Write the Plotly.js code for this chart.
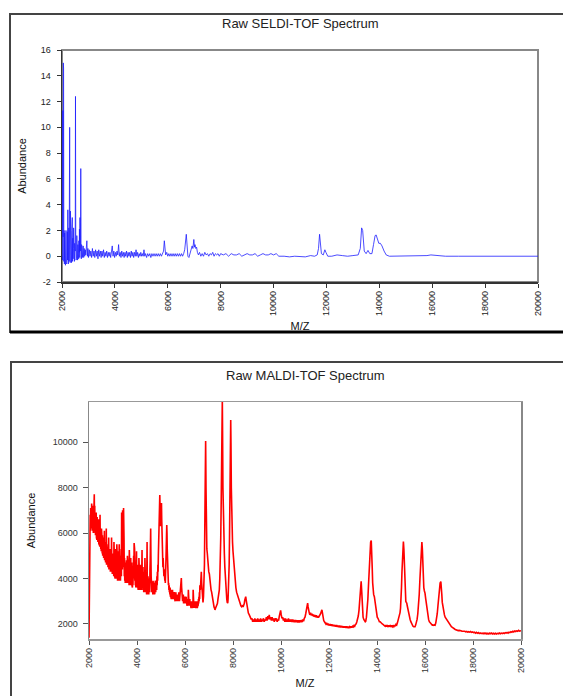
<!DOCTYPE html>
<html>
<head>
<meta charset="utf-8">
<script src="https://cdn.plot.ly/plotly-3.0.1.min.js"></script>
<style>html,body{margin:0;padding:0;background:#fff;}#chart{width:563px;height:696px;}</style>
</head>
<body>
<div id="chart"></div>
<script>
// ---------- data ----------
const seldiTitle = "Raw SELDI-TOF Spectrum";
const maldiTitle = "Raw MALDI-TOF Spectrum";
const xTitle = "M/Z";
const yTitle = "Abundance";
const mzTicks = [2000, 4000, 6000, 8000, 10000, 12000, 14000, 16000, 18000, 20000];
const seldiYTicks = [-2, 0, 2, 4, 6, 8, 10, 12, 14, 16];
const maldiYTicks = [2000, 4000, 6000, 8000, 10000];

// SELDI spectrum: [m/z, abundance]
const seldiPoints = [
[2000,0.0],[2010,3.5],[2020,-0.3],[2030,11.3],[2040,1.5],[2050,15.0],[2060,14.6],[2070,-0.4],[2080,2.0],[2090,-0.6],
[2100,1.8],[2110,-0.2],[2120,1.2],[2130,-0.7],[2140,0.9],[2150,2.0],[2160,-0.5],[2170,1.3],[2180,-0.6],[2190,0.6],
[2200,1.9],[2210,-0.3],[2220,3.6],[2230,0.2],[2240,-0.6],[2250,1.0],[2260,2.2],[2270,-0.4],[2280,7.9],[2290,10.0],
[2300,0.5],[2310,-0.5],[2320,3.5],[2330,1.0],[2340,-0.3],[2350,0.8],[2360,-0.5],[2370,2.0],[2380,0.2],[2390,3.0],
[2400,-0.4],[2410,1.4],[2420,-0.2],[2430,0.6],[2440,2.2],[2450,-0.3],[2460,0.9],[2470,-0.4],[2480,1.0],[2490,5.3],
[2500,0.4],[2510,12.4],[2520,1.5],[2530,-0.3],[2540,0.7],[2550,-0.2],[2560,1.6],[2570,0.0],[2580,0.6],[2590,-0.3],
[2600,0.9],[2610,0.1],[2620,0.5],[2630,-0.2],[2640,1.2],[2650,0.3],[2660,2.1],[2670,-0.1],[2680,3.0],[2690,0.4],
[2700,0.8],[2710,6.8],[2720,0.6],[2730,-0.2],[2740,0.9],[2750,0.1],[2760,0.7],[2770,-0.1],[2780,0.5],[2790,0.2],
[2800,0.8],[2820,-0.1],[2840,0.6],[2860,0.0],[2880,0.5],[2900,0.1],[2920,0.9],[2940,1.2],[2960,0.0],[2980,0.6],
[3000,-0.1],[3030,0.5],[3060,0.0],[3090,0.4],[3120,-0.1],[3150,0.6],[3180,0.0],[3210,0.4],[3240,-0.1],[3270,0.5],
[3300,0.0],[3330,0.4],[3360,-0.2],[3390,0.5],[3420,0.0],[3450,0.4],[3480,-0.1],[3510,0.4],[3540,0.0],[3570,0.5],
[3600,-0.1],[3630,0.3],[3660,0.0],[3690,0.4],[3720,-0.1],[3750,0.3],[3780,0.0],[3810,0.3],[3840,-0.1],[3870,0.4],
[3900,0.8],[3930,0.0],[3960,0.4],[3990,-0.1],[4020,0.3],[4050,0.0],[4080,0.4],[4110,0.1],[4140,0.9],[4170,0.0],
[4200,0.3],[4230,-0.1],[4260,0.4],[4290,0.0],[4320,0.3],[4350,-0.1],[4380,0.3],[4410,0.0],[4440,0.4],[4470,-0.1],
[4500,0.3],[4530,0.0],[4560,0.3],[4590,-0.1],[4620,0.4],[4650,0.0],[4680,0.3],[4710,-0.1],[4740,0.3],[4770,0.0],
[4800,0.5],[4830,0.0],[4860,0.3],[4890,-0.1],[4920,0.2],[4950,0.0],[4980,0.3],[5010,0.0],[5040,0.2],[5070,0.0],
[5100,0.5],[5130,0.0],[5160,0.2],[5200,-0.1],[5240,0.2],[5280,0.0],[5320,0.2],[5360,-0.1],[5400,0.2],[5440,0.0],
[5480,0.2],[5520,0.0],[5560,0.2],[5600,0.0],[5640,0.2],[5680,0.0],[5720,0.2],[5760,0.0],[5800,0.2],[5840,0.4],
[5870,1.2],[5890,0.3],[5920,0.1],[5960,0.3],[6000,0.0],[6040,0.2],[6080,0.0],[6120,0.2],[6160,0.0],[6200,0.2],
[6240,0.0],[6280,0.2],[6320,0.0],[6360,0.2],[6400,0.0],[6440,0.2],[6480,0.0],[6520,0.2],[6560,0.0],[6600,0.2],
[6640,0.5],[6700,1.7],[6730,0.6],[6760,0.0],[6800,-0.1],[6840,0.2],[6880,0.3],[6920,0.8],[6950,0.6],[6985,1.3],
[7010,0.7],[7030,0.9],[7060,0.6],[7090,0.7],[7120,0.3],[7160,0.1],[7200,0.3],[7250,0.0],[7300,0.2],[7350,0.0],
[7400,0.3],[7450,0.1],[7500,0.2],[7550,0.0],[7600,0.2],[7650,0.1],[7700,0.3],[7750,0.0],[7800,0.2],[7850,0.1],
[7900,0.2],[7950,0.0],[8000,0.2],[8100,0.1],[8200,0.2],[8300,0.0],[8400,0.2],[8500,0.1],[8600,0.1],[8700,0.2],
[8800,0.0],[8900,0.1],[9000,0.2],[9100,0.1],[9200,0.1],[9300,0.2],[9400,0.0],[9500,0.1],[9600,0.2],[9700,0.1],
[9800,0.1],[9900,0.2],[10000,0.1],[10100,0.2],[10200,0.0],[10400,0.0],[10600,-0.05],[10800,0.0],[11000,0.0],[11200,-0.05],
[11400,0.05],[11550,0.0],[11650,0.1],[11700,0.6],[11740,1.7],[11770,1.2],[11810,0.2],[11880,0.1],[11940,0.5],[11980,0.3],
[12050,0.0],[12200,0.0],[12400,0.1],[12600,0.05],[12800,0.0],[13000,0.05],[13200,0.1],[13280,0.6],[13330,2.2],[13370,2.0],
[13430,0.4],[13500,0.2],[13570,0.45],[13640,0.2],[13720,0.2],[13780,0.9],[13840,1.6],[13880,1.65],[13930,1.3],[13980,1.0],
[14040,1.0],[14100,0.8],[14180,0.4],[14260,0.1],[14380,0.0],[14600,0.0],[15000,0.0],[15500,0.0],[15800,0.05],[15950,0.1],
[16200,0.05],[16500,0.0],[17000,0.0],[17500,0.0],[18000,0.0],[18500,0.0],[19000,0.0],[19500,0.0],[20000,0.0]
];

// MALDI spectrum: [m/z, abundance]
const maldiPoints = [
[2000,1400],[2008,2600],[2016,4200],[2024,5600],[2032,6300],[2040,5900],[2050,6800],[2060,6100],[2070,7100],[2080,6300],
[2090,7000],[2100,6200],[2110,7300],[2120,6400],[2130,6900],[2140,6100],[2150,7200],[2160,6300],[2170,7000],[2180,6000],
[2190,7400],[2200,6200],[2210,7100],[2220,7700],[2230,6400],[2240,7200],[2250,6000],[2260,6900],[2270,5900],[2280,6800],
[2290,6000],[2300,6900],[2310,5800],[2320,6600],[2330,5700],[2340,6700],[2350,5800],[2360,6500],[2370,5600],[2380,6400],
[2390,5700],[2400,6600],[2410,5500],[2420,6300],[2430,5500],[2440,6200],[2450,5400],[2460,6800],[2470,5500],[2480,6100],
[2490,5300],[2500,6000],[2510,5200],[2520,6200],[2530,5200],[2540,5800],[2550,5100],[2560,5900],[2570,5000],[2580,5700],
[2590,5000],[2600,5800],[2610,4900],[2620,5600],[2630,4900],[2640,6100],[2650,4800],[2660,5600],[2670,4800],[2680,5500],
[2690,4700],[2700,5400],[2710,4700],[2720,6200],[2730,4600],[2740,5500],[2750,4600],[2760,5300],[2770,4600],[2780,5400],
[2790,4500],[2800,5200],[2810,4500],[2820,5800],[2830,4400],[2840,5200],[2850,4500],[2860,5100],[2870,4400],[2880,5300],
[2890,4300],[2900,5000],[2910,4400],[2920,5100],[2930,4300],[2940,5800],[2950,4300],[2960,5000],[2970,4200],[2980,4900],
[2990,4300],[3000,5100],[3010,4200],[3020,4800],[3030,4100],[3040,5600],[3050,4200],[3060,4800],[3070,4100],[3080,4900],
[3090,4000],[3100,5300],[3110,4100],[3120,4700],[3130,4000],[3140,4900],[3150,4000],[3160,5500],[3170,4100],[3180,4800],
[3190,3900],[3200,4700],[3210,4000],[3220,5200],[3230,3900],[3240,4700],[3250,4000],[3260,5500],[3270,3900],[3280,4600],
[3290,4000],[3300,5000],[3310,3900],[3320,4600],[3330,4200],[3340,5300],[3350,4100],[3360,6900],[3370,4600],[3380,5600],
[3390,4400],[3400,7000],[3410,5000],[3420,6200],[3430,4500],[3440,7100],[3450,4800],[3460,5700],[3470,4100],[3480,4900],
[3490,3900],[3500,4600],[3510,3800],[3520,4700],[3530,3900],[3540,4500],[3550,3800],[3560,4800],[3570,3900],[3580,4500],
[3590,3800],[3600,5000],[3610,3900],[3620,4600],[3630,3800],[3640,4700],[3650,3900],[3660,4500],[3670,3700],[3680,5250],
[3690,3800],[3700,4500],[3710,3700],[3720,4600],[3730,3800],[3740,4900],[3750,3700],[3760,4400],[3770,3800],[3780,4700],
[3790,3700],[3800,4400],[3810,3600],[3820,4500],[3830,3700],[3840,4800],[3850,3800],[3860,5000],[3870,4000],[3880,5560],
[3890,4200],[3900,5300],[3910,3900],[3920,4600],[3930,3700],[3940,4500],[3950,3600],[3960,4700],[3970,3700],[3980,5200],
[3990,3600],[4000,4400],[4010,3600],[4020,4600],[4030,3700],[4040,4300],[4050,3500],[4060,4500],[4070,3600],[4080,4900],
[4090,3600],[4100,4300],[4110,3500],[4120,4400],[4130,3600],[4140,4200],[4150,3500],[4160,4600],[4170,3600],[4180,4300],
[4190,3500],[4200,4400],[4210,5250],[4220,3600],[4230,4200],[4240,3500],[4250,4500],[4260,3500],[4270,4100],[4280,3400],
[4290,4300],[4300,3500],[4310,4100],[4320,3400],[4330,4900],[4340,3500],[4350,4100],[4360,3400],[4370,4200],[4380,3400],
[4390,4000],[4400,3300],[4410,4300],[4420,5600],[4430,3500],[4440,4000],[4450,3300],[4460,4100],[4470,3400],[4480,3900],
[4490,3300],[4500,4000],[4510,3400],[4520,3900],[4530,3400],[4540,4400],[4550,4800],[4560,5600],[4570,6200],[4580,5000],
[4590,4100],[4600,3500],[4610,3900],[4620,3400],[4630,3800],[4640,3300],[4650,3700],[4660,3300],[4670,3900],[4680,3400],
[4690,3700],[4700,3300],[4710,3800],[4720,3400],[4730,3700],[4740,3300],[4750,3800],[4760,3400],[4770,3900],[4780,3400],
[4790,3800],[4800,3500],[4810,3900],[4820,3500],[4830,4100],[4840,3700],[4850,4300],[4860,3900],[4870,4600],[4880,4300],
[4890,5000],[4900,5400],[4910,6000],[4920,6800],[4930,7300],[4940,7600],[4950,7670],[4960,7200],[4970,6500],[4980,6300],
[4990,6800],[5000,7100],[5010,7300],[5020,7320],[5030,6600],[5040,5600],[5050,5000],[5060,4700],[5070,5100],[5080,4500],
[5090,4900],[5100,4300],[5110,4700],[5120,4100],[5130,4400],[5140,3900],[5150,4200],[5160,3900],[5170,4000],[5180,3800],
[5190,4200],[5200,4500],[5210,5000],[5220,5600],[5230,6000],[5240,6350],[5250,6000],[5260,5300],[5270,4800],[5280,4400],
[5290,4100],[5300,3900],[5310,3700],[5320,3800],[5330,3500],[5340,3700],[5350,3400],[5360,3600],[5370,3300],[5380,3600],
[5390,3200],[5400,3500],[5410,3200],[5420,3500],[5430,3100],[5440,3500],[5450,3200],[5460,3400],[5470,3100],[5480,3500],
[5490,3200],[5500,3400],[5510,3100],[5520,3400],[5530,3100],[5540,3300],[5550,3100],[5560,3400],[5570,3100],[5580,3300],
[5590,3000],[5600,3300],[5610,3100],[5620,3400],[5630,3000],[5640,3300],[5650,3100],[5660,3300],[5670,3000],[5680,3200],
[5690,3000],[5700,3300],[5710,3000],[5720,3200],[5730,3000],[5740,3400],[5750,3100],[5760,3300],[5770,3000],[5780,3200],
[5790,3100],[5800,3300],[5810,3400],[5820,3600],[5830,3900],[5847,4020],[5860,3600],[5870,3300],[5880,3100],[5890,3300],
[5900,3000],[5910,3200],[5920,3000],[5930,3300],[5940,2900],[5950,3200],[5960,3000],[5970,3200],[5980,2900],[5990,3200],
[6000,2900],[6010,3200],[6020,2900],[6030,3100],[6040,2900],[6050,3200],[6060,2900],[6070,3100],[6080,2800],[6090,3100],
[6100,2900],[6110,3100],[6120,2800],[6130,3000],[6140,3500],[6150,2900],[6160,3100],[6170,2800],[6180,3000],[6190,2800],
[6200,3100],[6210,2800],[6220,3000],[6230,2800],[6240,3000],[6250,2700],[6260,3000],[6270,2800],[6280,3000],[6290,2700],
[6300,3000],[6310,2800],[6320,2900],[6330,2700],[6340,3500],[6350,2800],[6360,3000],[6370,2700],[6380,2900],[6390,2700],
[6400,3000],[6410,2800],[6420,3000],[6430,2700],[6440,2900],[6450,2700],[6460,3000],[6470,2800],[6480,2900],[6490,2700],
[6500,3000],[6510,2700],[6520,2900],[6530,2800],[6540,3000],[6550,2800],[6560,3100],[6570,2900],[6580,3200],[6590,3000],
[6600,3400],[6610,3100],[6620,3700],[6640,3500],[6660,3900],[6680,4300],[6695,3800],[6710,3300],[6730,3000],[6750,2950],
[6770,3200],[6790,3700],[6810,4600],[6830,6800],[6845,8800],[6860,10040],[6875,8000],[6890,6000],[6910,5300],[6930,5100],
[6950,4700],[6970,4500],[6990,4300],[7015,4200],[7040,3800],[7060,3700],[7085,3500],[7110,3400],[7135,3200],[7160,3000],
[7185,2850],[7210,2750],[7230,2700],[7250,2620],[7275,2700],[7300,2750],[7325,2800],[7350,2900],[7375,3100],[7400,3300],
[7430,3500],[7450,4000],[7470,4600],[7490,5800],[7510,7500],[7530,9600],[7545,11200],[7555,11900],[7565,10500],[7580,8000],
[7595,6500],[7610,5600],[7625,5300],[7640,5100],[7660,4500],[7680,4000],[7700,3600],[7720,3300],[7740,3100],[7760,2950],
[7780,2920],[7795,3100],[7810,3400],[7825,3900],[7840,4600],[7855,5800],[7870,7500],[7885,9300],[7895,10400],[7905,10970],
[7915,10000],[7930,8000],[7945,6600],[7960,6000],[7980,5600],[8000,5200],[8020,4900],[8040,4500],[8065,4200],[8090,3900],
[8120,3600],[8150,3400],[8175,3300],[8200,3200],[8225,3100],[8250,3000],[8275,3000],[8300,2900],[8330,2800],[8360,2760],
[8390,2800],[8420,2750],[8445,2800],[8470,2900],[8490,3050],[8510,3150],[8530,3200],[8550,3050],[8570,2900],[8590,2750],
[8610,2600],[8640,2480],[8670,2420],[8700,2350],[8730,2300],[8760,2200],[8790,2250],[8820,2100],[8850,2200],[8880,2100],
[8910,2250],[8940,2100],[8970,2200],[9000,2100],[9030,2250],[9060,2100],[9090,2200],[9120,2100],[9150,2250],[9180,2100],
[9210,2200],[9240,2120],[9270,2250],[9300,2100],[9330,2200],[9360,2150],[9390,2300],[9420,2150],[9450,2350],[9480,2200],
[9510,2400],[9540,2200],[9570,2300],[9600,2150],[9630,2300],[9660,2150],[9690,2250],[9720,2100],[9750,2250],[9780,2150],
[9810,2250],[9840,2100],[9870,2200],[9900,2150],[9930,2350],[9960,2500],[9985,2600],[10010,2400],[10040,2250],[10070,2300],
[10100,2150],[10130,2250],[10160,2100],[10190,2250],[10220,2100],[10250,2200],[10280,2100],[10310,2250],[10340,2100],[10370,2200],
[10400,2100],[10430,2200],[10460,2080],[10490,2200],[10520,2080],[10550,2180],[10580,2080],[10610,2180],[10640,2080],[10670,2170],
[10700,2070],[10730,2170],[10760,2070],[10790,2170],[10820,2080],[10850,2180],[10880,2080],[10910,2200],[10940,2120],[10970,2250],
[11000,2300],[11030,2450],[11060,2600],[11090,2800],[11110,2920],[11130,2750],[11150,2550],[11175,2500],[11200,2400],[11230,2500],
[11260,2380],[11290,2450],[11320,2350],[11350,2420],[11380,2320],[11410,2400],[11440,2300],[11470,2380],[11500,2280],[11530,2350],
[11560,2280],[11590,2330],[11620,2350],[11650,2450],[11680,2550],[11705,2620],[11725,2500],[11750,2300],[11780,2150],[11810,2100],
[11840,2050],[11870,2000],[11900,2050],[11930,1950],[11960,2020],[11990,1940],[12020,2000],[12050,1930],[12080,1990],[12110,1920],
[12140,1980],[12170,1900],[12200,1970],[12230,1890],[12260,1950],[12290,1880],[12320,1950],[12350,1870],[12380,1930],[12410,1860],
[12440,1930],[12470,1850],[12500,1920],[12530,1850],[12560,1910],[12590,1840],[12620,1900],[12650,1840],[12680,1900],[12710,1830],
[12740,1900],[12770,1820],[12800,1890],[12830,1820],[12860,1880],[12890,1830],[12920,1890],[12950,1840],[12980,1900],[13010,1870],
[13040,1930],[13070,1900],[13100,1980],[13130,2000],[13160,2100],[13190,2200],[13220,2350],[13250,2600],[13275,3000],[13300,3500],
[13320,3800],[13340,3880],[13360,3500],[13380,2900],[13400,2500],[13420,2300],[13450,2200],[13480,2150],[13510,2100],[13530,2120],
[13560,2300],[13590,2600],[13620,3100],[13650,3800],[13680,4600],[13710,5200],[13735,5600],[13760,5670],[13780,5300],[13800,4500],
[13820,3800],[13840,3400],[13860,3300],[13890,3200],[13920,2900],[13950,2600],[13980,2400],[14010,2300],[14040,2250],[14070,2150],
[14100,2100],[14130,2100],[14160,2050],[14190,2000],[14220,2000],[14250,1980],[14280,1950],[14310,1950],[14340,1900],[14370,1950],
[14400,1880],[14430,1950],[14460,1890],[14490,1940],[14520,1880],[14550,1930],[14580,1890],[14610,1940],[14640,1880],[14670,1920],
[14700,1880],[14730,1950],[14760,1900],[14790,1980],[14820,1950],[14850,2050],[14880,2150],[14910,2300],[14940,2450],[14960,2500],
[14980,2700],[15000,3000],[15020,3600],[15040,4300],[15060,5000],[15080,5500],[15100,5620],[15120,5300],[15140,4500],[15160,3700],
[15180,3200],[15200,3000],[15220,2950],[15240,2920],[15260,2800],[15290,2600],[15320,2450],[15350,2300],[15380,2200],[15410,2100],
[15440,2000],[15470,1950],[15500,1900],[15530,1880],[15560,1900],[15585,1880],[15610,1950],[15640,2050],[15670,2200],[15700,2450],
[15730,2800],[15760,3300],[15790,4000],[15820,4800],[15845,5400],[15870,5600],[15890,5300],[15910,4600],[15930,3900],[15950,3600],
[15975,3450],[16000,3360],[16030,3100],[16060,2800],[16090,2550],[16120,2350],[16150,2200],[16180,2100],[16210,2050],[16240,2000],
[16270,1980],[16300,1950],[16330,1960],[16360,1940],[16390,1960],[16420,1950],[16450,2050],[16480,2200],[16510,2450],[16540,2800],
[16570,3200],[16600,3600],[16630,3800],[16660,3860],[16680,3700],[16700,3300],[16720,2950],[16750,2700],[16780,2500],[16810,2400],
[16840,2300],[16870,2250],[16900,2180],[16940,2100],[16980,2050],[17020,1980],[17060,1930],[17100,1880],[17140,1850],[17180,1800],
[17220,1790],[17260,1760],[17300,1740],[17340,1730],[17380,1710],[17420,1720],[17460,1690],[17500,1700],[17540,1680],[17580,1690],
[17620,1670],[17660,1680],[17700,1650],[17740,1670],[17780,1640],[17820,1660],[17860,1640],[17900,1670],[17940,1630],[17980,1650],
[18020,1620],[18060,1640],[18100,1600],[18140,1630],[18180,1590],[18220,1620],[18260,1580],[18300,1610],[18340,1580],[18380,1600],
[18420,1570],[18460,1600],[18500,1570],[18540,1600],[18580,1560],[18620,1590],[18660,1560],[18700,1600],[18740,1570],[18780,1600],
[18820,1560],[18860,1590],[18900,1560],[18940,1590],[18980,1560],[19020,1590],[19060,1570],[19100,1600],[19140,1570],[19180,1600],
[19220,1580],[19260,1610],[19300,1580],[19340,1620],[19380,1600],[19420,1630],[19460,1600],[19500,1640],[19540,1620],[19580,1660],
[19620,1640],[19660,1680],[19700,1650],[19740,1690],[19780,1670],[19820,1700],[19860,1680],[19900,1720],[19940,1690],[19980,1710],
[20000,1700]
];

// ---------- build figure ----------
const W = 563, H = 696;
const px = v => v / W;          // pixel -> paper x
const py = v => 1 - v / H;      // pixel -> paper y
const FONT = "Liberation Sans, Arial, Helvetica, sans-serif";

const traces = [
  {
    type: "scatter", mode: "lines", name: "SELDI",
    x: seldiPoints.map(p => p[0]), y: seldiPoints.map(p => p[1]),
    xaxis: "x", yaxis: "y",
    line: { color: "rgb(30,30,255)", width: 0.8 },
    hoverinfo: "x+y", showlegend: false
  },
  {
    type: "scatter", mode: "lines", name: "MALDI",
    x: maldiPoints.map(p => p[0]), y: maldiPoints.map(p => p[1]),
    xaxis: "x2", yaxis: "y2",
    line: { color: "rgb(255,0,0)", width: 1.6 },
    hoverinfo: "x+y", showlegend: false
  }
];

const tickFont = { family: FONT, size: 9, color: "#222" };
const axTitleFont = { family: FONT, size: 11, color: "#111" };

const layout = {
  width: W, height: H,
  margin: { l: 0, r: 0, t: 0, b: 0 },
  paper_bgcolor: "#fff", plot_bgcolor: "#fff",
  font: { family: FONT },
  showlegend: false,
  xaxis: {
    domain: [px(62), px(538)], anchor: "y",
    range: [2000, 20000], tickvals: mzTicks, ticktext: mzTicks.map(String),
    tickangle: -90, ticks: "outside", ticklen: 4, tickcolor: "#333", tickwidth: 1,
    showline: true, linecolor: "#333", linewidth: 1.5,
    showgrid: false, zeroline: false, tickfont: tickFont,
    title: { text: xTitle, font: axTitleFont, standoff: 7 }
  },
  yaxis: {
    domain: [py(282), py(50)], anchor: "x",
    range: [-2, 16], tickvals: seldiYTicks, ticktext: seldiYTicks.map(String),
    ticks: "outside", ticklen: 4, tickcolor: "#333", tickwidth: 1,
    showline: true, linecolor: "#333", linewidth: 1.5,
    showgrid: false, zeroline: false, tickfont: tickFont, ticklabelstandoff: 4,
    title: { text: yTitle, font: axTitleFont, standoff: 12 }
  },
  xaxis2: {
    domain: [px(89), px(521)], anchor: "y2",
    range: [2000, 20000], tickvals: mzTicks, ticktext: mzTicks.map(String),
    tickangle: -90, ticks: "outside", ticklen: 4, tickcolor: "#555", tickwidth: 1,
    showline: true, mirror: true, linecolor: "#999", linewidth: 1.5,
    showgrid: false, zeroline: false, tickfont: { family: FONT, size: 9, color: "#333" },
    title: { text: xTitle, font: axTitleFont, standoff: 7 }
  },
  yaxis2: {
    domain: [py(639), py(402)], anchor: "x2",
    range: [1340, 11760], tickvals: maldiYTicks, ticktext: maldiYTicks.map(String),
    ticks: "outside", ticklen: 5, tickcolor: "#555", tickwidth: 1,
    showline: true, mirror: true, linecolor: "#888", linewidth: 1.5,
    showgrid: false, zeroline: false, tickfont: { family: FONT, size: 9, color: "#333" },
    ticklabelstandoff: 3,
    title: { text: yTitle, font: axTitleFont, standoff: 15 }
  },
  annotations: [
    { text: seldiTitle, xref: "paper", yref: "paper", x: px(300), y: py(23),
      xanchor: "center", yanchor: "middle", showarrow: false,
      font: { family: FONT, size: 13, color: "#222" } },
    { text: maldiTitle, xref: "paper", yref: "paper", x: px(305), y: py(375),
      xanchor: "center", yanchor: "middle", showarrow: false,
      font: { family: FONT, size: 13, color: "#222" } }
  ],
  shapes: [
    // outer panel frames
    { type: "rect", xref: "paper", yref: "paper", x0: px(10), x1: 1.02, y0: py(332), y1: py(14),
      line: { color: "#444", width: 2 }, fillcolor: "rgba(0,0,0,0)", layer: "below" },
    { type: "line", xref: "paper", yref: "paper", x0: px(10), x1: 1.02, y0: py(332), y1: py(332),
      line: { color: "#000", width: 3 } },
    { type: "rect", xref: "paper", yref: "paper", x0: px(11), x1: 1.02, y0: -0.05, y1: py(362),
      line: { color: "#444", width: 2 }, fillcolor: "rgba(0,0,0,0)", layer: "below" },
    // grey plot frame of the top chart (top and right sides)
    { type: "rect", xref: "x domain", yref: "y domain", x0: 0, x1: 1, y0: 0, y1: 1,
      line: { color: "#888", width: 2 }, fillcolor: "rgba(0,0,0,0)", layer: "below" }
  ]
};

Plotly.newPlot("chart", traces, layout, { staticPlot: true, displayModeBar: false });
</script>
</body>
</html>
